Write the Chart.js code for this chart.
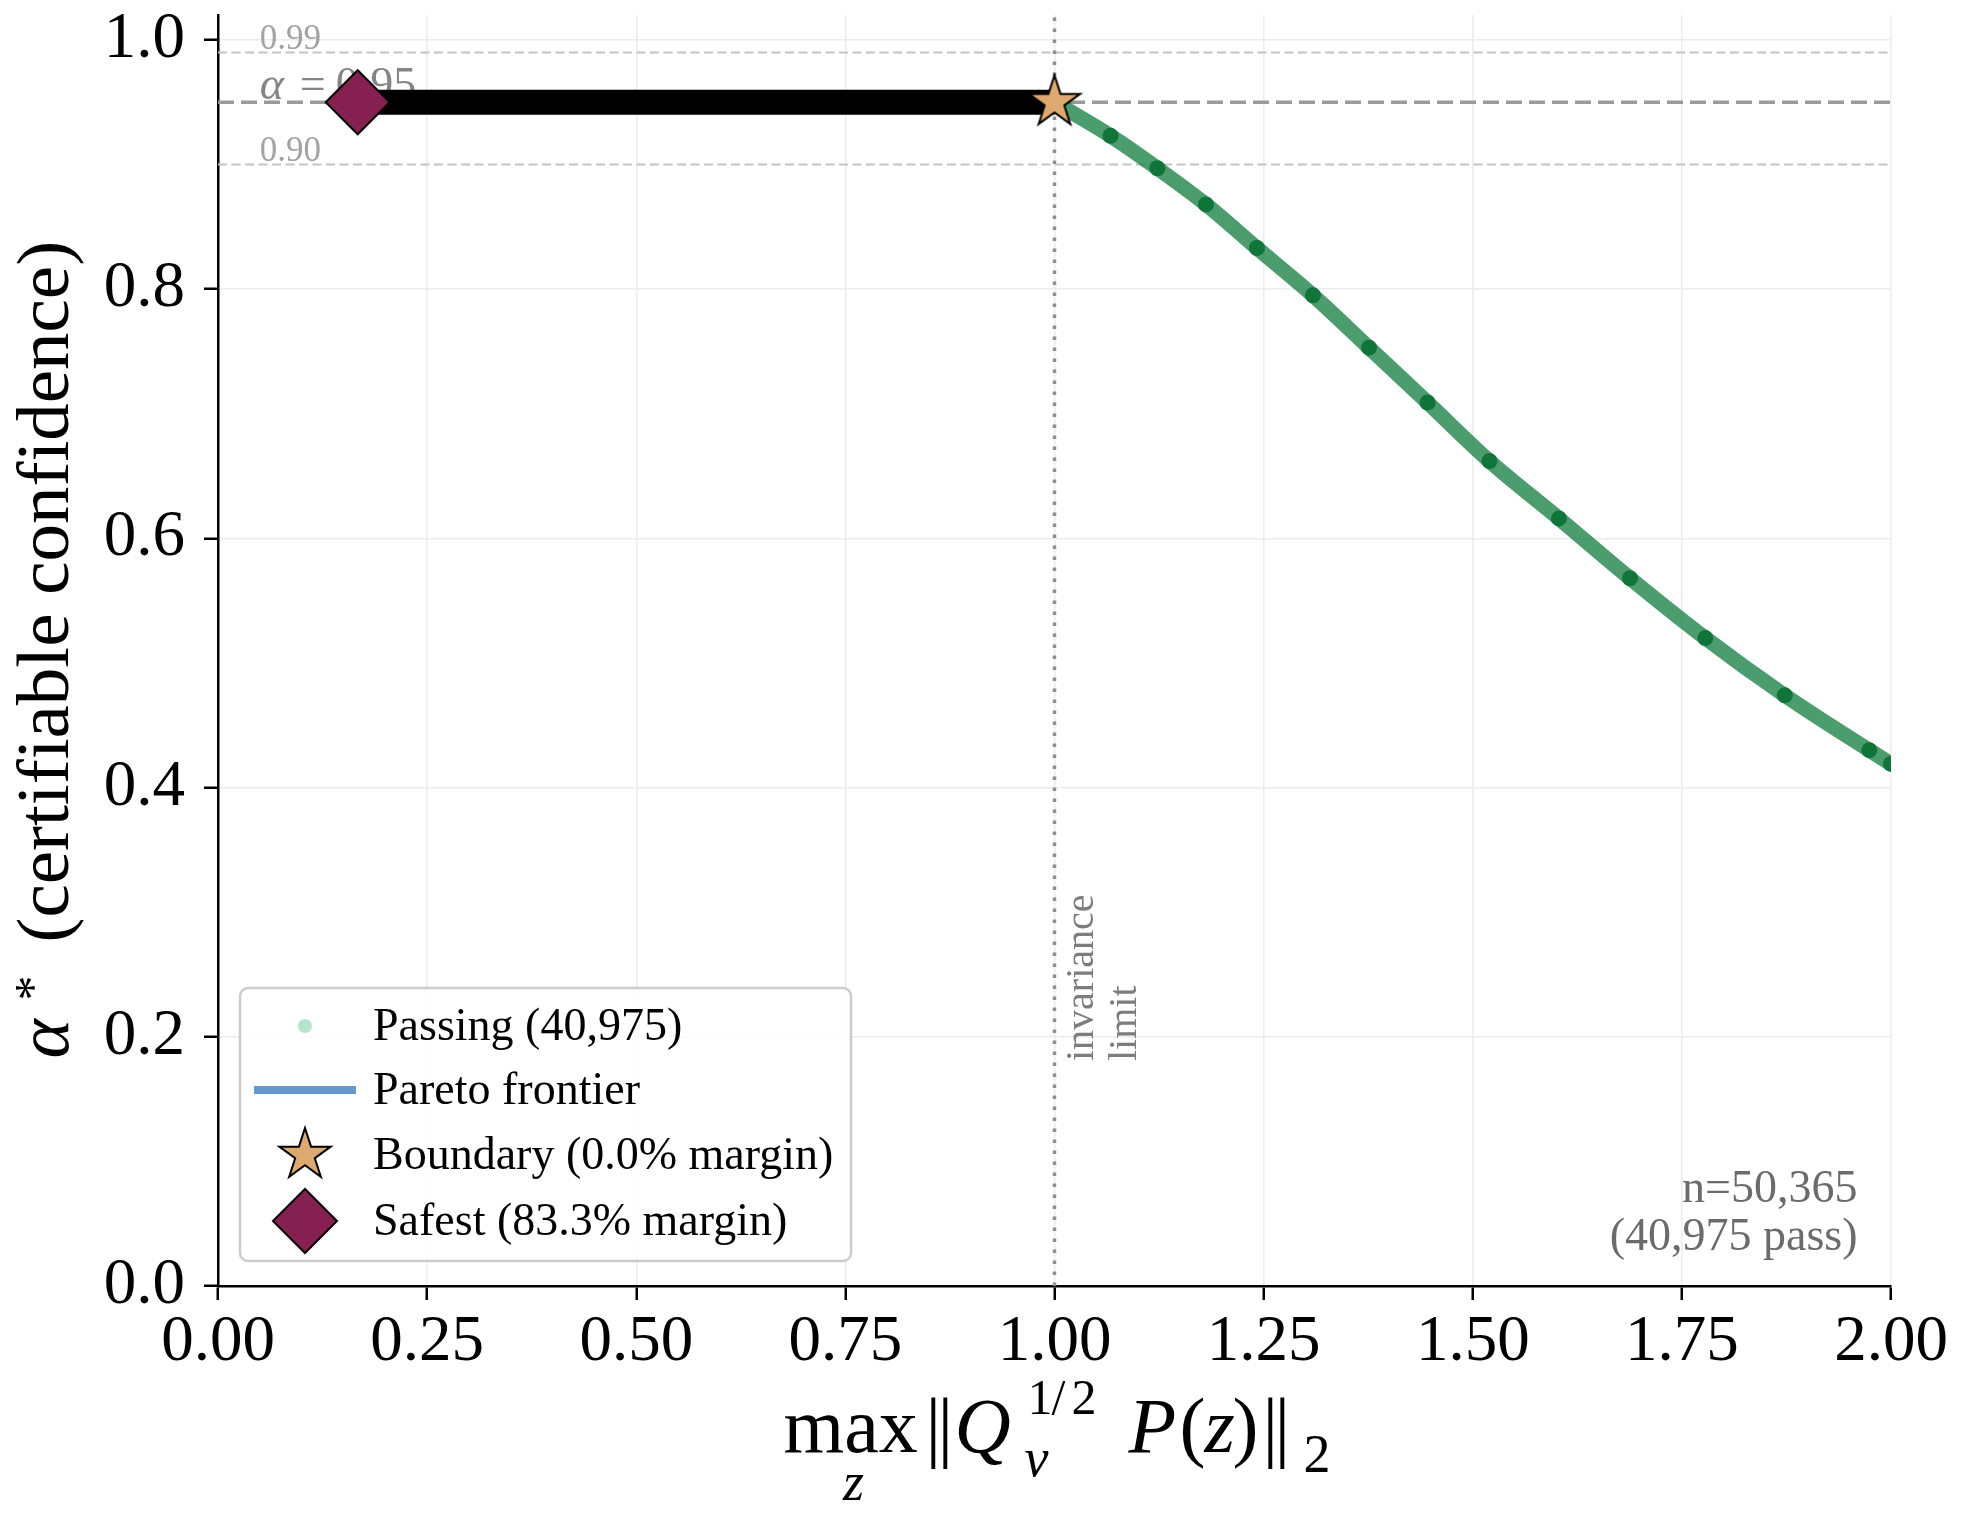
<!DOCTYPE html>
<html>
<head>
<meta charset="utf-8">
<script src="https://cdn.jsdelivr.net/npm/chart.js@4.4.0/dist/chart.umd.min.js"></script>
<style>
  body { margin: 0; background: #fff; }
  #wrap { width: 1963px; height: 1518px; }
</style>
</head>
<body>
<div id="wrap"><canvas id="myChart" width="1963" height="1518"></canvas></div>
<script>
// values
const curveX = [1.0, 1.067, 1.123, 1.181, 1.242, 1.309, 1.376, 1.446, 1.52, 1.603, 1.688, 1.778, 1.873, 1.974, 2.0];
const curveY = [0.95, 0.923, 0.897, 0.868, 0.833, 0.795, 0.753, 0.709, 0.662, 0.616, 0.568, 0.52, 0.474, 0.43, 0.419];
const frontierX = [0.167, 1.0];
const frontierY = [0.95, 0.95];
const refLevels = [0.99, 0.95, 0.90];
const refLabels = ["0.99", "0.95", "0.90"];
const invarianceX = 1.0;
const boundaryPt = [1.0, 0.95];
const safestPt = [0.167, 0.95];
const legendLabels = ["Passing (40,975)", "Pareto frontier", "Boundary (0.0% margin)", "Safest (83.3% margin)"];
const countLines = ["n=50,365", "(40,975 pass)"];

const SERIF = '"Liberation Serif", "Times New Roman", serif';
const chart = document.getElementById("myChart");

function starPath(g, cx, cy, R) {
  g.beginPath();
  for (let i = 0; i < 10; i++) {
    const a = -Math.PI / 2 + (i * Math.PI) / 5;
    const r = i % 2 === 0 ? R : R * 0.382;
    const px = cx + r * Math.cos(a);
    const py = cy + r * Math.sin(a);
    if (i === 0) g.moveTo(px, py);
    else g.lineTo(px, py);
  }
  g.closePath();
}

function makeStar(R) {
  const c = document.createElement("canvas");
  const s = Math.ceil(2 * R + 8);
  c.width = s;
  c.height = s;
  const g = c.getContext("2d");
  starPath(g, s / 2, s / 2, R);
  g.fillStyle = "#dea96f";
  g.fill();
  g.lineWidth = 2;
  g.strokeStyle = "#000";
  g.stroke();
  return c;
}
const starImg = makeStar(27);

function pts(xs, ys) {
  return xs.map((x, i) => ({ x: x, y: ys[i] }));
}

function txt(ctx, s, x, y, size, opts) {
  opts = opts || {};
  ctx.font = (opts.italic ? "italic " : "") + size + "px " + SERIF;
  ctx.fillStyle = opts.color || "#000";
  ctx.textAlign = opts.align || "left";
  ctx.textBaseline = "alphabetic";
  ctx.fillText(s, x, y);
}

const overlay = {
  id: "overlay",
  beforeDatasetsDraw(c) {
    const ctx = c.ctx;
    const xs = c.scales.x, ys = c.scales.y, a = c.chartArea;
    ctx.save();
    // threshold labels
    const lx = xs.getPixelForValue(0.05);
    txt(ctx, refLabels[0], lx, ys.getPixelForValue(refLevels[0]) - 3, 35, { color: "#a3a3a3" });
    txt(ctx, refLabels[2], lx, ys.getPixelForValue(refLevels[2]) - 4, 35, { color: "#a3a3a3" });
    const ay = ys.getPixelForValue(refLevels[1]) - 3;
    txt(ctx, "\u03b1", lx, ay, 46, { italic: true, color: "#858585" });
    txt(ctx, "=", lx + 40, ay, 46, { color: "#858585" });
    txt(ctx, refLabels[1], lx + 76, ay, 46, { color: "#858585" });
    // count note
    const rx = a.left + 0.98 * (a.right - a.left);
    txt(ctx, countLines[0], rx, 1202, 46, { align: "right", color: "#6b6b6b" });
    txt(ctx, countLines[1], rx, 1250, 46, { align: "right", color: "#6b6b6b" });
    // invariance limit
    const vx = xs.getPixelForValue(invarianceX);
    ["invariance", "limit"].forEach((s, i) => {
      ctx.save();
      ctx.translate(vx + 38 + i * 43, 1061);
      ctx.rotate(-Math.PI / 2);
      txt(ctx, s, 0, 0, 40, { color: "#7d7d7d" });
      ctx.restore();
    });
    ctx.restore();
  },
  afterDatasetsDraw(c) {
    const ctx = c.ctx, a = c.chartArea;
    ctx.save();
    // legend box
    const bx = a.left + 22, by = 988, bw = 611, bh = 273;
    ctx.beginPath();
    ctx.roundRect(bx, by, bw, bh, 8);
    ctx.fillStyle = "rgba(255,255,255,0.85)";
    ctx.fill();
    ctx.lineWidth = 2.5;
    ctx.strokeStyle = "#cccccc";
    ctx.stroke();
    const mx = bx + 65, tx = bx + 133;
    const rows = [1026, 1090, 1155, 1221];
    // passing dot
    ctx.beginPath();
    ctx.arc(mx, rows[0], 7, 0, Math.PI * 2);
    ctx.fillStyle = "#b3e5cd";
    ctx.fill();
    // frontier line
    ctx.beginPath();
    ctx.moveTo(mx - 51, rows[1]);
    ctx.lineTo(mx + 51, rows[1]);
    ctx.lineWidth = 8;
    ctx.strokeStyle = "#6699cc";
    ctx.stroke();
    // star
    ctx.drawImage(starImg, mx - starImg.width / 2, rows[2] - starImg.height / 2);
    // diamond
    ctx.beginPath();
    ctx.moveTo(mx - 32, rows[3]);
    ctx.lineTo(mx, rows[3] - 32);
    ctx.lineTo(mx + 32, rows[3]);
    ctx.lineTo(mx, rows[3] + 32);
    ctx.closePath();
    ctx.fillStyle = "#861f52";
    ctx.fill();
    ctx.lineWidth = 2;
    ctx.strokeStyle = "#000";
    ctx.stroke();
    legendLabels.forEach((s, i) => txt(ctx, s, tx, rows[i] + 14, 46));
    ctx.restore();
  },
  afterDraw(c) {
    const ctx = c.ctx, a = c.chartArea;
    ctx.save();
    // x title: max_z ||Q_v^{1/2} P(z)||_2
    const cx = (a.left + a.right) / 2, b = 1452;
    txt(ctx, "max", cx - 271, b, 78);
    txt(ctx, "z", cx - 201, 1500, 54, { italic: true, align: "center" });
    txt(ctx, "|", cx - 129, b, 78);
    txt(ctx, "|", cx - 117, b, 78);
    txt(ctx, "Q", cx - 100, b, 78, { italic: true });
    txt(ctx, "1", cx - 27, 1414, 50);
    txt(ctx, "/", cx - 3, 1414, 50);
    txt(ctx, "2", cx + 17, 1414, 50);
    txt(ctx, "v", cx - 30, 1476, 54, { italic: true });
    txt(ctx, "P", cx + 74, b, 78, { italic: true });
    txt(ctx, "(", cx + 125, b, 78);
    txt(ctx, "z", cx + 150, b, 78, { italic: true });
    txt(ctx, ")", cx + 178, b, 78);
    txt(ctx, "|", cx + 208, b, 78);
    txt(ctx, "|", cx + 220, b, 78);
    txt(ctx, "2", cx + 249, 1472, 54);
    // y title: alpha* (certifiable confidence)
    const cy = (a.top + a.bottom) / 2;
    ctx.translate(68, cy);
    ctx.rotate(-Math.PI / 2);
    txt(ctx, "\u03b1", -408, 0, 75, { italic: true });
    txt(ctx, "*", -350, -19, 50);
    txt(ctx, "(certifiable confidence)", -292, 0, 75);
    ctx.restore();
  },
};

const hline = (lvl) => [{ x: 0, y: lvl }, { x: 2, y: lvl }];

new Chart(chart, {
  type: "line",
  data: {
    datasets: [
      {
        label: "Safest",
        data: [{ x: safestPt[0], y: safestPt[1] }],
        showLine: false,
        pointStyle: "rectRot",
        pointRadius: 32,
        pointBackgroundColor: "#861f52",
        pointBorderColor: "#000",
        pointBorderWidth: 2,
        order: 0,
      },
      {
        label: "Boundary",
        data: [{ x: boundaryPt[0], y: boundaryPt[1] }],
        showLine: false,
        pointStyle: starImg,
        pointRadius: 27,
        order: 1,
      },
      {
        label: "Passing dots",
        data: pts(curveX, curveY),
        showLine: false,
        pointRadius: 8,
        pointBorderWidth: 0,
        pointBackgroundColor: "#0f7538",
        order: 2,
      },
      {
        label: "Passing",
        data: pts(curveX, curveY),
        borderColor: "rgba(30,132,72,0.8)",
        borderWidth: 15,
        pointRadius: 0,
        cubicInterpolationMode: "monotone",
        order: 3,
      },
      {
        label: "Pareto frontier",
        data: pts(frontierX, frontierY),
        borderColor: "#000",
        borderWidth: 25,
        borderCapStyle: "butt",
        pointRadius: 0,
        order: 4,
      },
      {
        label: "invariance",
        data: [{ x: invarianceX, y: 0 }, { x: invarianceX, y: 1.02 }],
        borderColor: "#8f8f8f",
        borderWidth: 3.5,
        borderDash: [3.5, 7.5],
        pointRadius: 0,
        order: 5,
      },
      {
        label: "alpha",
        data: hline(refLevels[1]),
        borderColor: "#9a9a9a",
        borderWidth: 3.5,
        borderDash: [16, 7],
        pointRadius: 0,
        order: 6,
      },
      {
        label: "0.99",
        data: hline(refLevels[0]),
        borderColor: "#c4c4c4",
        borderWidth: 2,
        borderDash: [9, 4.5],
        pointRadius: 0,
        order: 7,
      },
      {
        label: "0.90",
        data: hline(refLevels[2]),
        borderColor: "#c4c4c4",
        borderWidth: 2,
        borderDash: [9, 4.5],
        pointRadius: 0,
        order: 8,
      },
    ],
  },
  options: {
    responsive: false,
    animation: false,
    devicePixelRatio: 1,
    layout: { autoPadding: false, padding: { top: 15, right: 72, left: 0, bottom: 0 } },
    plugins: { legend: { display: false }, tooltip: { enabled: false } },
    scales: {
      x: {
        type: "linear",
        min: 0,
        max: 2,
        ticks: {
          stepSize: 0.25,
          autoSkip: false,
          maxRotation: 0,
          padding: 4,
          color: "#000",
          font: { family: SERIF, size: 65 },
          callback: (v) => v.toFixed(2),
        },
        grid: { color: "#ececec", lineWidth: 1.5, tickColor: "#000", tickWidth: 2.5, tickLength: 14 },
        border: { color: "#000", width: 2.5 },
        afterFit: (s) => {
          s.height = 232;
          s.paddingLeft = 0;
          s.paddingRight = 0;
        },
      },
      y: {
        type: "linear",
        min: 0,
        max: 1.02,
        ticks: {
          stepSize: 0.2,
          includeBounds: false,
          padding: 19,
          color: "#000",
          font: { family: SERIF, size: 65 },
          callback: (v) => v.toFixed(1),
        },
        grid: { color: "#ececec", lineWidth: 1.5, tickColor: "#000", tickWidth: 2.5, tickLength: 14 },
        border: { color: "#000", width: 2.5 },
        afterFit: (s) => {
          s.width = 218;
          s.paddingTop = 0;
          s.paddingBottom = 0;
        },
      },
    },
  },
  plugins: [overlay],
});
</script>
</body>
</html>
